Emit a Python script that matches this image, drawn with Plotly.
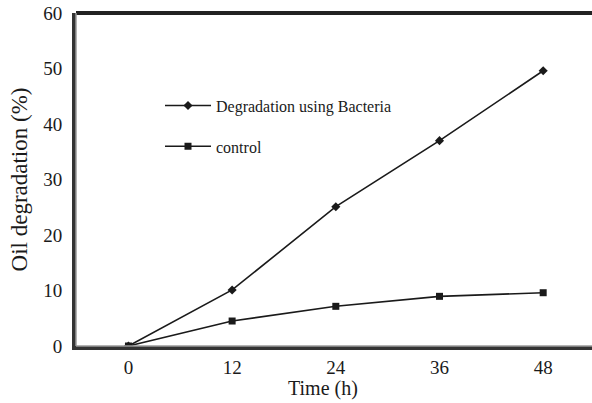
import plotly.graph_objects as go

time_h = [0, 12, 24, 36, 48]
bacteria = [0, 10.1, 25.1, 37.0, 49.6]
control = [0, 4.5, 7.15, 8.95, 9.6]
x_ticks = [0, 12, 24, 36, 48]
y_ticks = [0, 10, 20, 30, 40, 50, 60]

FONT = "Liberation Serif, Times New Roman, serif"
INK = "#1a1a1a"

fig = go.Figure()
fig.add_trace(go.Scatter(
    x=time_h, y=bacteria, mode="lines+markers",
    name="Degradation using Bacteria", legendgroup="a",
    line=dict(color=INK, width=1.6),
    marker=dict(symbol="diamond", size=7, color=INK),
))
fig.add_trace(go.Scatter(
    x=time_h, y=control, mode="lines+markers",
    name="control", legendgroup="b",
    line=dict(color=INK, width=1.6),
    marker=dict(symbol="square", size=7, color=INK),
))

fig.update_layout(
    width=592, height=403,
    margin=dict(l=76, r=0, t=13, b=57),
    paper_bgcolor="white", plot_bgcolor="white",
    font=dict(family=FONT, color=INK, size=19),
    showlegend=True,
    legend=dict(
        x=(160 - 76) / 516, y=0.773, xanchor="left", yanchor="top",
        bgcolor="rgba(0,0,0,0)", font=dict(size=16, family=FONT),
        tracegroupgap=17, itemwidth=46,
    ),
    xaxis=dict(
        range=[-6.07, 53.65], tickvals=x_ticks, ticktext=[str(v) for v in x_ticks],
        showgrid=False, zeroline=False, showline=True, linecolor="#333", linewidth=4,
        ticks="", ticklabelstandoff=1, tickfont=dict(size=19),
    ),
    yaxis=dict(
        range=[0, 60], tickvals=y_ticks,
        showgrid=False, zeroline=False, showline=True, linecolor="#333", linewidth=4,
        ticks="", ticklabelstandoff=6, tickfont=dict(size=19),
        title=dict(text="Oil degradation (%)", font=dict(size=23), standoff=10),
    ),
    shapes=[
        dict(type="line", xref="paper", yref="paper", x0=0, x1=1.01, y0=1, y1=1,
             line=dict(color="#222", width=4), layer="above"),
        dict(type="line", xref="paper", yref="paper", x0=0, x1=1.01, y0=0, y1=0,
             line=dict(color="#9a9a9a", width=1.5), layer="above"),
        dict(type="line", xref="paper", yref="paper", x0=0, x1=0, y0=0, y1=1,
             line=dict(color="#9a9a9a", width=1.5), layer="above"),
    ],
    annotations=[
        dict(text="Time (h)", xref="paper", yref="paper", x=(323 - 76) / 516, y=-(388 - 346) / 333,
             xanchor="center", yanchor="middle", showarrow=False, font=dict(size=20)),
    ],
)

fig.write_html("out.html")
